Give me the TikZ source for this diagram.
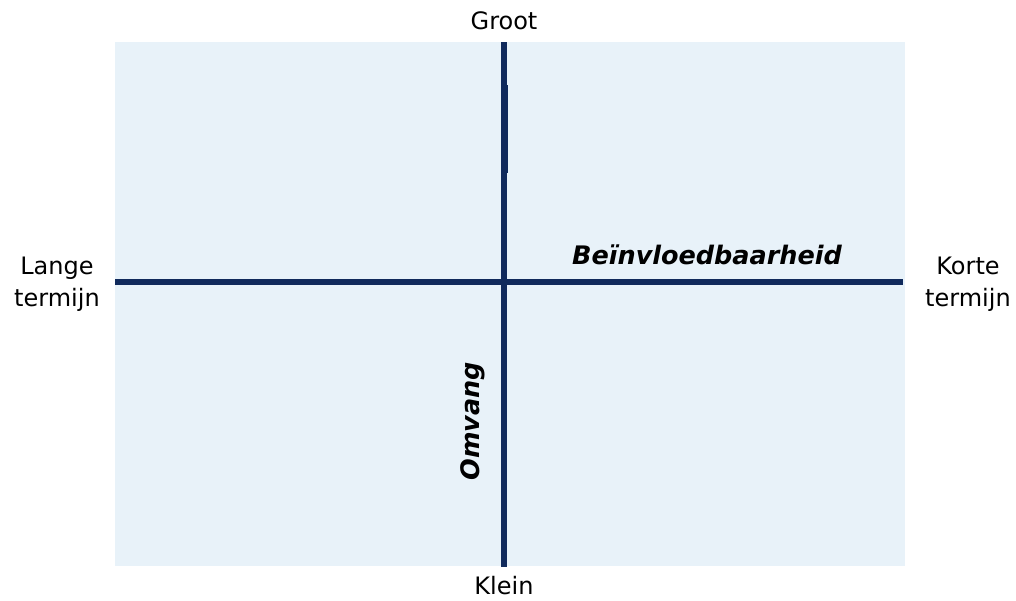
\documentclass[tikz,border=0pt]{standalone}
\usepackage{fontspec}
\setmainfont{DejaVu Sans}
\definecolor{bgblue}{HTML}{E8F2F9}
\definecolor{axisnavy}{HTML}{102A5C}
\begin{document}
\begin{tikzpicture}[x=1pt,y=-1pt,
  axis/.style={draw=axisnavy,line width=6pt},
  lbl/.style={font=\fontsize{24}{32}\selectfont,align=center,text=black,inner sep=0pt},
  axlbl/.style={font=\fontsize{25.5}{30}\selectfont\bfseries\itshape,text=black,inner sep=0pt}]
\useasboundingbox (0,0) rectangle (1016,600);
\fill[bgblue] (115,42) rectangle (905,566);
\coordinate (top) at (504,42);
\coordinate (bot) at (504,567);
\coordinate (lft) at (115,281.5);
\coordinate (rgt) at (903,281.5);
\draw[axis] (top) -- (bot);
\draw[axis] (lft) -- (rgt);
\coordinate (st1) at (507.5,85);
\coordinate (st2) at (507.5,173);
\draw[axisnavy,line width=1.2pt] (st1) -- (st2);
\node[lbl] (groot) at (504,21) {Groot};
\node[lbl] (klein) at (504,586) {Klein};
\node[lbl] (lange) at (57,284) {Lange\\termijn};
\node[lbl] (korte) at (968,284) {Korte\\termijn};
\node[axlbl] (bein) at (707,255) {Beïnvloedbaarheid};
\node[axlbl,rotate=90] (omvang) at (473,421) {Omvang};
\end{tikzpicture}
\end{document}
